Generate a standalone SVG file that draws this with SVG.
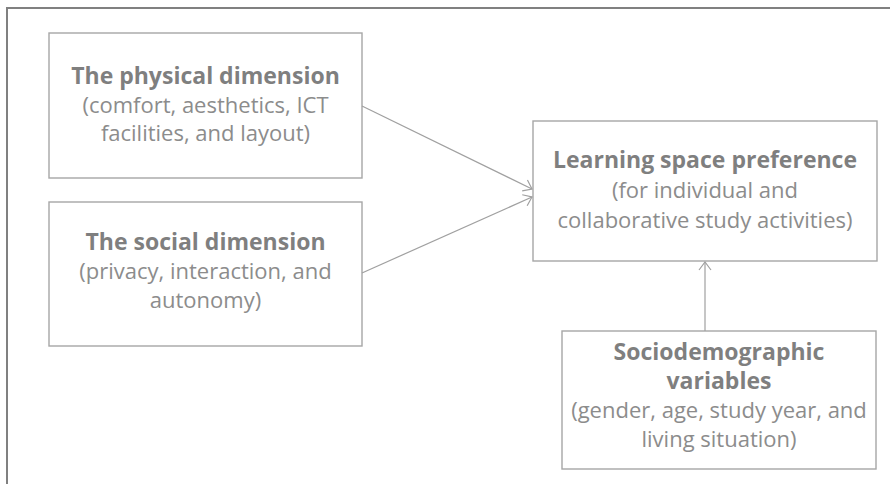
<svg xmlns="http://www.w3.org/2000/svg" width="890" height="484" viewBox="0 0 890 484">
<defs>
<style>
.box{fill:#ffffff;stroke:#a6a6a6;stroke-width:1.4}
.t{font-family:"Open Sans","Liberation Sans",sans-serif;font-size:22px;text-anchor:middle}
.b{font-weight:bold;font-size:23px;fill:#7f7f7f}
.r{fill:#8c8c8c}
.conn{stroke:#a0a0a0;stroke-width:1.2;fill:none;marker-end:url(#arr)}
</style>
<marker id="arr" viewBox="0 0 10 14" refX="9" refY="7" markerWidth="10" markerHeight="14" markerUnits="userSpaceOnUse" orient="auto">
<path d="M1,1 L9,7 L1,13" fill="none" stroke="#a0a0a0" stroke-width="1.2"/>
</marker>
</defs>
<rect width="890" height="484" fill="#ffffff"/>
<path d="M7,484 V8 H890" fill="none" stroke="#808080" stroke-width="2"/>
<g id="physical">
<rect class="box" x="49" y="33" width="313" height="145"/>
<text class="t b" x="205.5" y="84">The physical dimension</text>
<text class="t r" x="205.5" y="113">(comfort, aesthetics, ICT</text>
<text class="t r" x="205.5" y="141">facilities, and layout)</text>
</g>
<g id="social">
<rect class="box" x="49" y="202" width="313" height="144"/>
<text class="t b" x="205.5" y="250">The social dimension</text>
<text class="t r" x="205.5" y="279">(privacy, interaction, and</text>
<text class="t r" x="205.5" y="308">autonomy)</text>
</g>
<g id="preference">
<rect class="box" x="533" y="121" width="344" height="140"/>
<text class="t b" x="705" y="168">Learning space preference</text>
<text class="t r" x="705" y="198">(for individual and</text>
<text class="t r" x="705" y="228">collaborative study activities)</text>
</g>
<g id="sociodemographic">
<rect class="box" x="562" y="331" width="314" height="138"/>
<text class="t b" x="719" y="360">Sociodemographic</text>
<text class="t b" x="719" y="389">variables</text>
<text class="t r" x="719" y="418">(gender, age, study year, and</text>
<text class="t r" x="719" y="447">living situation)</text>
</g>
<g id="connectors">
<line class="conn" x1="362" y1="106" x2="532" y2="189"/>
<line class="conn" x1="362" y1="273" x2="532" y2="197"/>
<line class="conn" x1="705" y1="331" x2="705" y2="262"/>
</g>
</svg>
